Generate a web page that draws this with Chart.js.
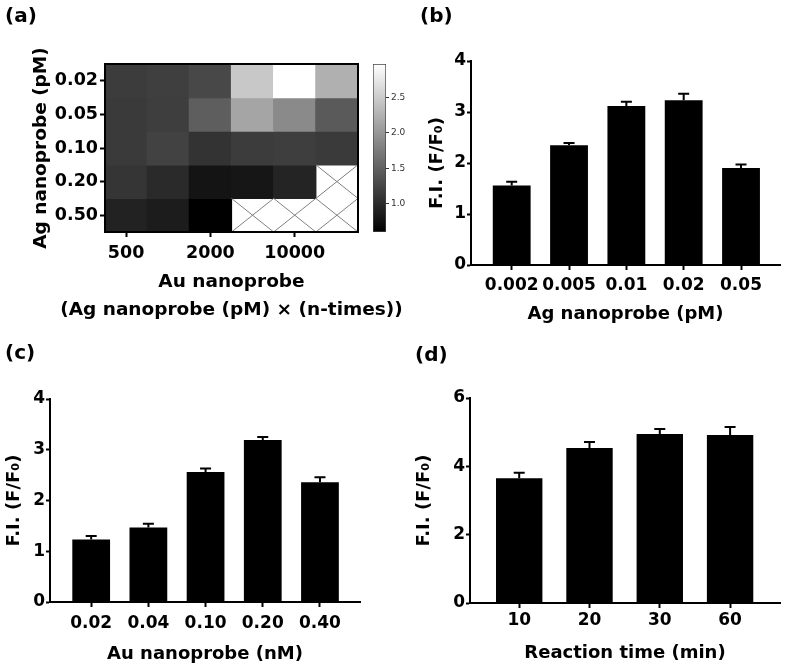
<!DOCTYPE html>
<html>
<head>
<meta charset="utf-8">
<script src="https://cdn.jsdelivr.net/npm/chart.js@4.4.1/dist/chart.umd.min.js"></script>
<style>
  body { margin: 0; background: #fff; }
  #wrap { position: relative; width: 786px; height: 671px; overflow: hidden; background: #fff; }
  canvas { position: absolute; }
</style>
</head>
<body>
<div id="wrap">
  <canvas id="heatmap" width="420" height="330" style="left:0px;top:0px"></canvas>
  <canvas id="colorbar" width="60" height="330" style="left:360px;top:0px"></canvas>
  <canvas id="panelB" width="366" height="330" style="left:420px;top:0px"></canvas>
  <canvas id="panelC" width="400" height="341" style="left:0px;top:330px"></canvas>
  <canvas id="panelD" width="386" height="341" style="left:400px;top:330px"></canvas>
</div>
<script>
// (a) heatmap: rows = Ag nanoprobe, columns = Au nanoprobe
var heatRows = ["0.02", "0.05", "0.10", "0.20", "0.50"];
var heatColTicks = ["500", "2000", "10000"];
var heatColTickPos = [0, 2, 4];
var heat002 = [1.16, 1.19, 1.27, 2.46, 2.97, 2.24];
var heat005 = [1.14, 1.18, 1.47, 2.13, 1.88, 1.44];
var heat010 = [1.14, 1.21, 1.07, 1.16, 1.18, 1.14];
var heat020 = [1.09, 0.99, 0.79, 0.80, 0.93, null];
var heat050 = [0.92, 0.86, 0.60, null, null, null];
var heatValues = [heat002, heat005, heat010, heat020, heat050];
var heatMin = 0.6;
var heatMax = 2.97;
var colorbarTicks = [1.0, 1.5, 2.0, 2.5];
var heatXTitle = ["Au nanoprobe", "(Ag nanoprobe (pM) \u00d7 (n-times))"];

// (b)
var agLabels = ["0.002", "0.005", "0.01", "0.02", "0.05"];
var agValues = [1.56, 2.35, 3.12, 3.23, 1.90];
var agErrors = [0.07, 0.04, 0.08, 0.13, 0.07];

// (c)
var auLabels = ["0.02", "0.04", "0.10", "0.20", "0.40"];
var auValues = [1.23, 1.47, 2.56, 3.19, 2.36];
var auErrors = [0.07, 0.07, 0.07, 0.06, 0.10];

// (d)
var timeLabels = ["10", "20", "30", "60"];
var timeValues = [3.65, 4.54, 4.95, 4.92];
var timeErrors = [0.16, 0.17, 0.14, 0.23];

var yTitle = "F.I. (F/F\u2080)";

Chart.defaults.font.family = '"DejaVu Sans", sans-serif';
Chart.defaults.color = "#000";
Chart.defaults.animation = false;
Chart.defaults.responsive = false;
Chart.defaults.events = [];
Chart.defaults.plugins.legend.display = false;
Chart.defaults.plugins.tooltip.enabled = false;

function grayFor(v) {
    var g = Math.round((v - heatMin) / (heatMax - heatMin) * 255);
    return "rgb(" + g + "," + g + "," + g + ")";
}

// upper error bars only, like the original
var errorBarPlugin = {
    id: "errorBars",
    afterDatasetsDraw: function (chart, args, opts) {
        var ctx = chart.ctx, x = chart.scales.x, y = chart.scales.y;
        var points = chart.data.datasets[0].data;
        ctx.save();
        ctx.strokeStyle = "#000";
        ctx.lineWidth = 2;
        for (var i = 0; i < points.length; i++) {
            var px = x.getPixelForValue(points[i].x);
            var yBar = y.getPixelForValue(points[i].y);
            var yTop = y.getPixelForValue(points[i].y + opts.errors[i]);
            ctx.beginPath();
            ctx.moveTo(px, yBar);
            ctx.lineTo(px, yTop);
            ctx.moveTo(px - 5.5, yTop);
            ctx.lineTo(px + 5.5, yTop);
            ctx.stroke();
        }
        ctx.restore();
    }
};

// crosses on empty cells, frame, and the two-line x title
var heatOverlay = {
    id: "heatOverlay",
    afterDatasetsDraw: function (chart) {
        var ctx = chart.ctx, x = chart.scales.x, y = chart.scales.y, ca = chart.chartArea;
        ctx.save();
        ctx.strokeStyle = "#808080";
        ctx.lineWidth = 1;
        heatValues.forEach(function (row, r) {
            row.forEach(function (v, c) {
                if (v !== null) return;
                var x0 = x.getPixelForValue(c - 0.5), x1 = x.getPixelForValue(c + 0.5);
                var y0 = y.getPixelForValue(r - 0.5), y1 = y.getPixelForValue(r + 0.5);
                ctx.beginPath();
                ctx.moveTo(x0, y0); ctx.lineTo(x1, y1);
                ctx.moveTo(x1, y0); ctx.lineTo(x0, y1);
                ctx.stroke();
            });
        });
        ctx.strokeStyle = "#000";
        ctx.lineWidth = 2;
        ctx.strokeRect(ca.left, ca.top, ca.right - ca.left, ca.bottom - ca.top);
        ctx.restore();
    },
    afterDraw: function (chart) {
        var ctx = chart.ctx, x = chart.scales.x;
        ctx.save();
        ctx.font = 'bold 18.5px "DejaVu Sans"';
        ctx.fillStyle = "#000";
        ctx.textAlign = "center";
        ctx.textBaseline = "middle";
        var cx = (x.left + x.right) / 2;
        for (var i = 0; i < heatXTitle.length; i++) {
            ctx.fillText(heatXTitle[i], cx, x.top + 50 + i * 28);
        }
        ctx.restore();
    }
};

new Chart(document.getElementById("heatmap"), {
    type: "bar",
    data: {
        datasets: heatValues.map(function (row, r) {
            return {
                data: row.map(function (v, c) {
                    return { x: c, y: v === null ? null : [r - 0.5, r + 0.5] };
                }),
                backgroundColor: row.map(function (v) { return v === null ? "rgba(0,0,0,0)" : grayFor(v); }),
                borderWidth: 0,
                inflateAmount: 0.6,
                grouped: false,
                barPercentage: 1,
                categoryPercentage: 1
            };
        })
    },
    options: {
        layout: { padding: { left: 5, right: 62, top: 0, bottom: 0 } },
        plugins: {
            title: { display: true, text: "(a)", align: "start", font: { size: 20, weight: "bold" }, padding: { top: 5, bottom: 35 } }
        },
        scales: {
            x: {
                type: "linear", min: -0.5, max: 5.5, offset: false,
                afterBuildTicks: function (s) { s.ticks = heatColTickPos.map(function (v) { return { value: v }; }); },
                afterFit: function (s) { s.height = 98; },
                ticks: { callback: function (v, i) { return heatColTicks[i]; }, autoSkip: false, maxRotation: 0, padding: 6, font: { size: 17.5, weight: "bold" } },
                grid: { drawOnChartArea: false, tickLength: 5, tickWidth: 2, tickColor: "#000", offset: false },
                border: { color: "#000", width: 2 }
            },
            y: {
                type: "linear", min: -0.5, max: 4.5, reverse: true,
                afterBuildTicks: function (s) { s.ticks = heatRows.map(function (l, i) { return { value: i }; }); },
                afterFit: function (s) { s.width = 100; },
                ticks: { callback: function (v, i) { return heatRows[i]; }, padding: 2, font: { size: 17.5, weight: "bold" } },
                grid: { drawOnChartArea: false, tickLength: 5, tickWidth: 2, tickColor: "#000" },
                border: { color: "#000", width: 2 },
                title: { display: true, text: "Ag nanoprobe (pM)", font: { size: 18.5, weight: "bold" }, padding: { top: 25, bottom: 0 } }
            }
        }
    },
    plugins: [heatOverlay]
});

// colour scale bar
new Chart(document.getElementById("colorbar"), {
    type: "bar",
    data: {
        labels: ["scale"],
        datasets: [{
            data: [[heatMin, heatMax]],
            backgroundColor: function (context) {
                var ca = context.chart.chartArea;
                if (!ca) return "#888";
                var g = context.chart.ctx.createLinearGradient(0, ca.bottom, 0, ca.top);
                g.addColorStop(0, "#000");
                g.addColorStop(1, "#fff");
                return g;
            },
            borderColor: "#444",
            borderWidth: 1,
            borderSkipped: false,
            barPercentage: 1,
            categoryPercentage: 1
        }]
    },
    options: {
        layout: { padding: { left: 13, right: 0, top: 64, bottom: 98 } },
        scales: {
            x: { display: false },
            y: {
                position: "right", min: heatMin, max: heatMax,
                afterBuildTicks: function (s) { s.ticks = colorbarTicks.map(function (v) { return { value: v }; }); },
                afterFit: function (s) { s.width = 34; },
                ticks: { callback: function (v) { return v.toFixed(1); }, padding: 2, color: "#333", font: { size: 9 } },
                grid: { drawOnChartArea: false, tickLength: 3, tickWidth: 1, tickColor: "#333" },
                border: { display: false }
            }
        }
    }
});

function barPanel(id, letter, labels, values, errors, xTitle, yMax, yStep, L) {
    return new Chart(document.getElementById(id), {
        type: "bar",
        data: {
            datasets: [{
                data: values.map(function (v, i) { return { x: i, y: v }; }),
                backgroundColor: "#000",
                borderWidth: 0,
                barPercentage: 0.66,
                categoryPercentage: 1
            }]
        },
        options: {
            layout: { padding: { left: L.padLeft, right: L.padRight, top: 0, bottom: 0 } },
            plugins: {
                title: { display: true, text: letter, align: "start", font: { size: 20, weight: "bold" }, padding: { top: L.titleTop, bottom: L.titleBottom } },
                errorBars: { errors: errors }
            },
            scales: {
                x: {
                    type: "linear", min: L.xMin, max: L.xMax, offset: false,
                    afterBuildTicks: function (s) { s.ticks = labels.map(function (l, i) { return { value: i }; }); },
                    afterFit: function (s) { s.height = L.xHeight; },
                    ticks: { callback: function (v, i) { return labels[i]; }, autoSkip: false, maxRotation: 0, padding: L.xTickPad, font: { size: 17, weight: "bold" } },
                    grid: { drawOnChartArea: false, tickLength: 5, tickWidth: 2, tickColor: "#000", offset: false },
                    border: { color: "#000", width: 2 },
                    title: { display: true, text: xTitle, font: { size: 18, weight: "bold" }, padding: { top: 0, bottom: L.xTitlePad } }
                },
                y: {
                    min: 0, max: yMax,
                    afterFit: function (s) { s.width = L.yWidth; },
                    ticks: { stepSize: yStep, padding: 1, font: { size: 17, weight: "bold" } },
                    grid: { drawOnChartArea: false, tickLength: 4, tickWidth: 2, tickColor: "#000" },
                    border: { color: "#000", width: 2 },
                    title: { display: true, text: yTitle, font: { size: 18, weight: "bold", lineHeight: 1 }, padding: { top: L.yTitlePad, bottom: 0 } }
                }
            }
        },
        plugins: [errorBarPlugin]
    });
}

barPanel("panelB", "(b)", agLabels, agValues, agErrors, "Ag nanoprobe (pM)", 4, 1, {
    padLeft: 0, padRight: 6, yWidth: 51, xHeight: 65,
    titleTop: 5, titleBottom: 32, xMin: -0.71, xMax: 4.68,
    xTickPad: 5, xTitlePad: 5, yTitlePad: 8
});

barPanel("panelC", "(c)", auLabels, auValues, auErrors, "Au nanoprobe (nM)", 4, 1, {
    padLeft: 5, padRight: 40, yWidth: 45, xHeight: 69,
    titleTop: 12, titleBottom: 33, xMin: -0.72, xMax: 4.70,
    xTickPad: 6, xTitlePad: 6, yTitlePad: 0
});

barPanel("panelD", "(d)", timeLabels, timeValues, timeErrors, "Reaction time (min)", 6, 2, {
    padLeft: 15, padRight: 6, yWidth: 55, xHeight: 68,
    titleTop: 14, titleBottom: 30, xMin: -0.70, xMax: 3.71,
    xTickPad: 2, xTitlePad: 7, yTitlePad: 0
});
</script>
</body>
</html>
